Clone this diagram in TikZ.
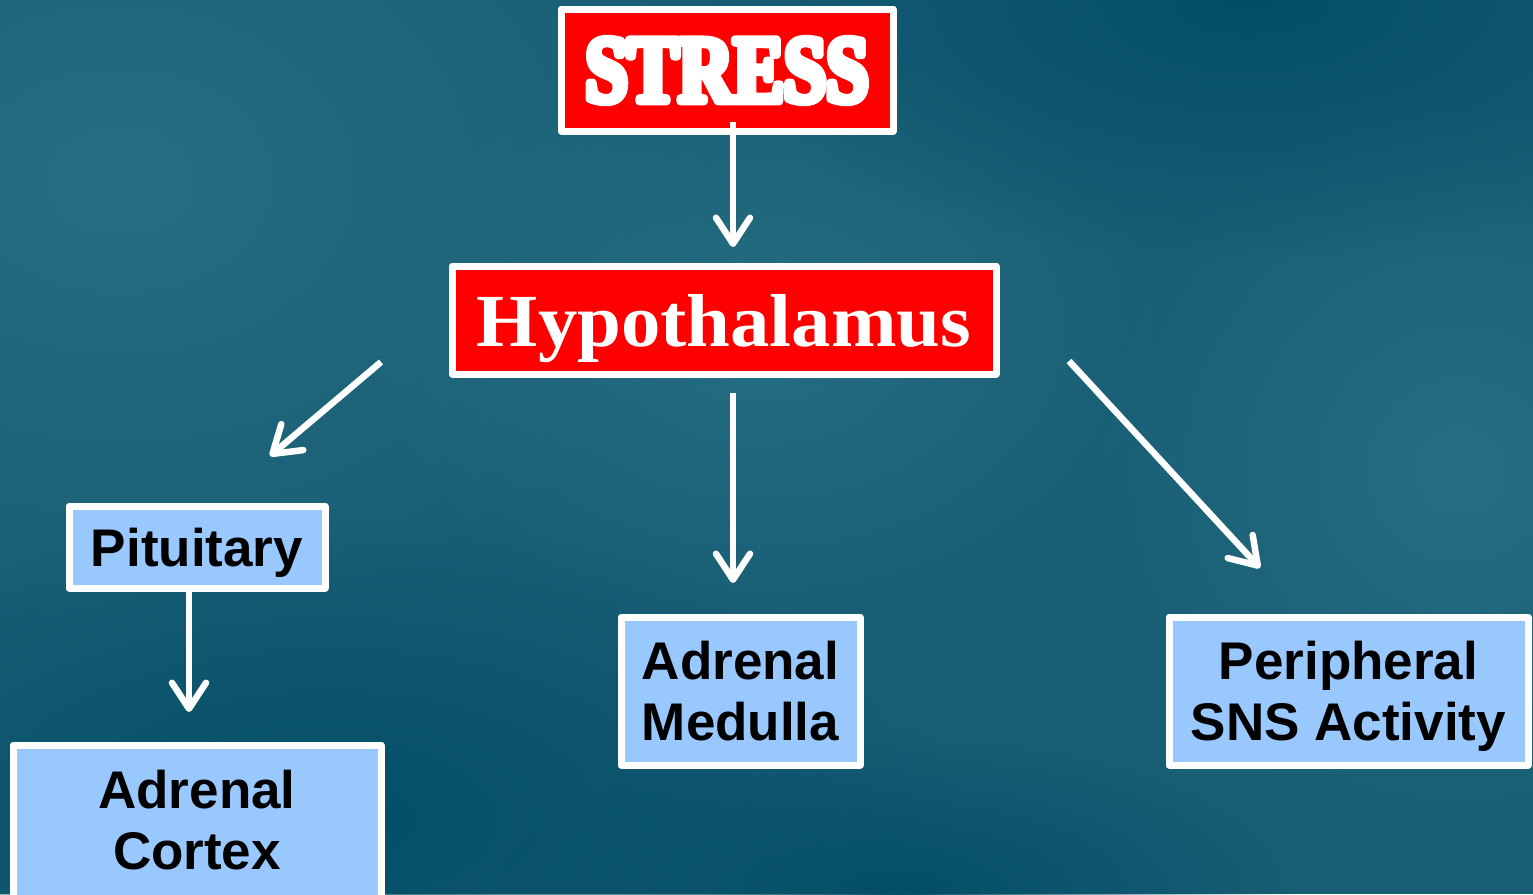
\documentclass[tikz,border=0pt]{standalone}
\usepackage{fontspec}
\setmainfont{Liberation Sans}
\newfontfamily\hypofont{Liberation Serif}[BoldFeatures={FakeStretch=1.05}]
\newfontfamily\stressfont{Liberation Serif}[BoldFeatures={FakeBold=8,FakeStretch=0.8}]
\usetikzlibrary{arrows.meta,fadings}

\definecolor{bgbase}{RGB}{24,94,117}
\definecolor{bglight}{RGB}{38,110,130}
\definecolor{bgdark}{RGB}{3,78,102}
\definecolor{boxblue}{RGB}{153,200,255}
\definecolor{boxred}{RGB}{255,0,0}
\tikzfading[name=blob, inner color=transparent!0, outer color=transparent!100]

\begin{document}
\begin{tikzpicture}[x=1pt,y=1pt,yscale=-1,xscale=1,
  redbox/.style={draw=white,line width=7pt,line join=round,fill=boxred,text=white,outer sep=0pt,inner sep=0pt},
  bluebox/.style={draw=white,line width=7pt,line join=round,fill=boxblue,text=black,outer sep=0pt,inner sep=0pt,
    align=center,font=\fontsize{53}{61}\selectfont\bfseries,text height=38pt,text depth=0pt},
  arr/.style={draw=white,line width=6.5pt,-{Straight Barb[length=26pt,width=34pt,round]}}]
\useasboundingbox (0,0) rectangle (1533,894);
\clip (0,0) rectangle (1533,894);

%Shape: Background
\fill[bgbase] (0,0) rectangle (1533,894);
\fill[bglight, path fading=blob] (120,180) ellipse [x radius=620, y radius=460];
\fill[bglight, path fading=blob] (760,330) ellipse [x radius=420, y radius=300];
\fill[bglight, path fading=blob] (1460,470) ellipse [x radius=380, y radius=380];
\fill[bgdark, path fading=blob] (330,820) ellipse [x radius=620, y radius=300];
\fill[bgdark, path fading=blob] (1250,0) ellipse [x radius=560, y radius=260];
\fill[bgdark, path fading=blob] (900,894) ellipse [x radius=400, y radius=160];

% Red Nodes
\node[redbox, minimum width=332pt, minimum height=122pt, text height=63pt, text depth=0pt,
  font=\stressfont\fontsize{95}{95}\bfseries\selectfont] (stress) at (727,70) {STRESS};
\node[redbox, minimum width=544pt, minimum height=108pt, text height=53pt, text depth=0pt,
  font=\hypofont\fontsize{75}{75}\bfseries\selectfont] (hypo) at (724,320) {Hypothalamus};

% Blue Nodes
\node[bluebox, minimum width=256pt, minimum height=82pt] (pit) at (197,547) {Pituitary};
\node[bluebox, minimum width=368pt, text height=124pt, text depth=200pt, anchor=north] (cortex) at (197,745) {Adrenal\\Cortex};
\node[bluebox, minimum width=239pt, minimum height=148pt, text height=99pt] (medulla) at (740.5,691) {Adrenal\\Medulla};
\node[bluebox, minimum width=359pt, minimum height=148pt, text height=99pt] (periph) at (1348.5,691) {Peripheral\\SNS Activity};

%Straight Lines
\draw[arr] ([shift={(6,-9)}]stress.south) -- ([shift={(9,-19)}]hypo.north);
\draw[arr] ([shift={(-71,42)}]hypo.west) -- ([shift={(73,-50)}]pit.north);
\draw[arr] ([shift={(9,19)}]hypo.south) -- ([shift={(-7.5,-34)}]medulla.north);
\draw[arr] ([shift={(73,41)}]hypo.east) -- ([shift={(-88.5,-49)}]periph.north);
\draw[arr] ([shift={(-8,0)}]pit.south) -- ([shift={(-8,-33)}]cortex.north);
\end{tikzpicture}
\end{document}
